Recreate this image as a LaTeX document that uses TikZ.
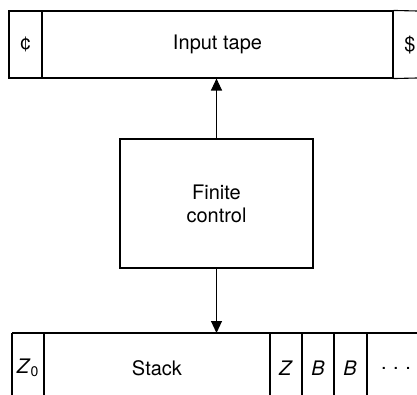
\documentclass[tikz,border=0pt]{standalone}
\usepackage{fontspec}
\setmainfont{TeX Gyre Heros}
\usetikzlibrary{arrows.meta}
\begin{document}
\begin{tikzpicture}[x=1pt,y=-1pt,
  line width=1.1pt,
  lbl/.style={font=\fontsize{20}{23}\selectfont, inner sep=0pt},
  cell/.style={draw, inner sep=0pt, line width=1.1pt},
  arr/.style={-{Triangle[length=12pt,width=11pt]}}]
\useasboundingbox (0,0) rectangle (417,395);
% input tape
\node[cell, minimum width=33pt, minimum height=67pt] (cent) at (25.5,44.5) {};
\node[cell, minimum width=351pt, minimum height=67pt] (tape) at (217.5,44.5) {};
\node[lbl] at (cent) {¢};
\node[lbl] at (tape) {Input tape};
\coordinate (tr) at (417,11);
\coordinate (br) at (417,78);
\draw (tape.north east) -- (tr);
\draw (tape.south east) -- (br);
\node[lbl] (dollar) at (410,45) {\$};
% finite control
\node[cell, minimum width=193pt, minimum height=129pt, align=center, font=\fontsize{20}{23}\selectfont] (fc) at (216.5,203.5) {Finite\\control};
\draw[arr] (fc.north) -- (fc.north |- tape.south);
% stack
\coordinate (s0) at (12,333);
\coordinate (s1) at (44,333);
\coordinate (s2) at (270,333);
\coordinate (s3) at (302,333);
\coordinate (s4) at (334,333);
\coordinate (s5) at (367,333);
\coordinate (send) at (417,333);
\draw (s0) -- (send);
\foreach \c in {s0,s1,s2,s3,s4,s5} \draw (\c) -- (\c |- 0,396);
\draw[arr] (fc.south) -- (fc.south |- s0);
\node[lbl] (z0) at (28,368) {\textit{Z}\textsubscript{0}};
\node[lbl] (stk) at (157,368) {Stack};
\node[lbl] (z) at (286,368) {\textit{Z}};
\node[lbl] (b1) at (318,368) {\textit{B}};
\node[lbl] (b2) at (350,368) {\textit{B}};
\node[lbl] (dots) at (396,368) {.\,\,.\,\,.};
\end{tikzpicture}
\end{document}
